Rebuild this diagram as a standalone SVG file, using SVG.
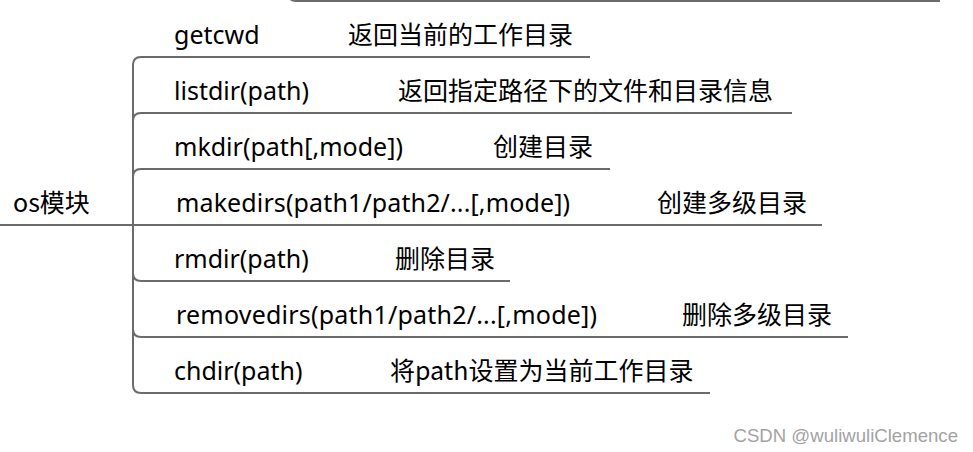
<svg xmlns="http://www.w3.org/2000/svg" width="973" height="452" viewBox="0 0 973 452">
<style>
.t{font-family:"Noto Sans","Noto Sans CJK SC",sans-serif;font-size:25px;fill:#000}
.c{font-family:"Noto Sans CJK SC","Noto Sans",sans-serif;font-size:25px;fill:#000}
.ln{fill:none;stroke:#6b6b6b;stroke-width:2}
.wm{font-family:"Liberation Sans",Arial,sans-serif;font-size:18.6px;fill:#a3a3a3}
</style>
<rect width="973" height="452" fill="#fff"/>
<g id="connectors">
<path class="ln" d="M288,-8 Q288,1 296,1 H940"/>
<path class="ln" d="M133,225 V65 Q133,57 141,57 H590"/>
<path class="ln" d="M133,225 V121 Q133,113 141,113 H792"/>
<path class="ln" d="M133,225 V177 Q133,169 141,169 H610"/>
<path class="ln" d="M133,225 H822"/>
<path class="ln" d="M133,225 V273 Q133,281 141,281 H510"/>
<path class="ln" d="M133,225 V329 Q133,337 141,337 H848"/>
<path class="ln" d="M133,225 V385 Q133,393 141,393 H710"/>
</g>
<g id="root">
<path class="ln" d="M0,225 H133"/>
<text class="c" x="13" y="212">os模块</text>
</g>
<g id="n-getcwd">
<text class="t" x="174" y="44">getcwd</text>
<text class="c" x="348" y="44">返回当前的工作目录</text>
</g>
<g id="n-listdir">
<text class="t" x="174" y="100">listdir(path)</text>
<text class="c" x="398" y="100">返回指定路径下的文件和目录信息</text>
</g>
<g id="n-mkdir">
<text class="t" x="174" y="156">mkdir(path[,mode])</text>
<text class="c" x="493" y="156">创建目录</text>
</g>
<g id="n-makedirs">
<text class="t" x="176" y="212" textLength="394" lengthAdjust="spacing">makedirs(path1/path2/...[,mode])</text>
<text class="c" x="657" y="212">创建多级目录</text>
</g>
<g id="n-rmdir">
<text class="t" x="174" y="268">rmdir(path)</text>
<text class="c" x="395" y="268">删除目录</text>
</g>
<g id="n-removedirs">
<text class="t" x="176" y="324" textLength="421" lengthAdjust="spacing">removedirs(path1/path2/...[,mode])</text>
<text class="c" x="682" y="324">删除多级目录</text>
</g>
<g id="n-chdir">
<text class="t" x="174" y="380">chdir(path)</text>
<text class="c" x="390" y="380">将path设置为当前工作目录</text>
</g>
<text class="wm" x="958" y="442" text-anchor="end">CSDN @wuliwuliClemence</text>
</svg>
